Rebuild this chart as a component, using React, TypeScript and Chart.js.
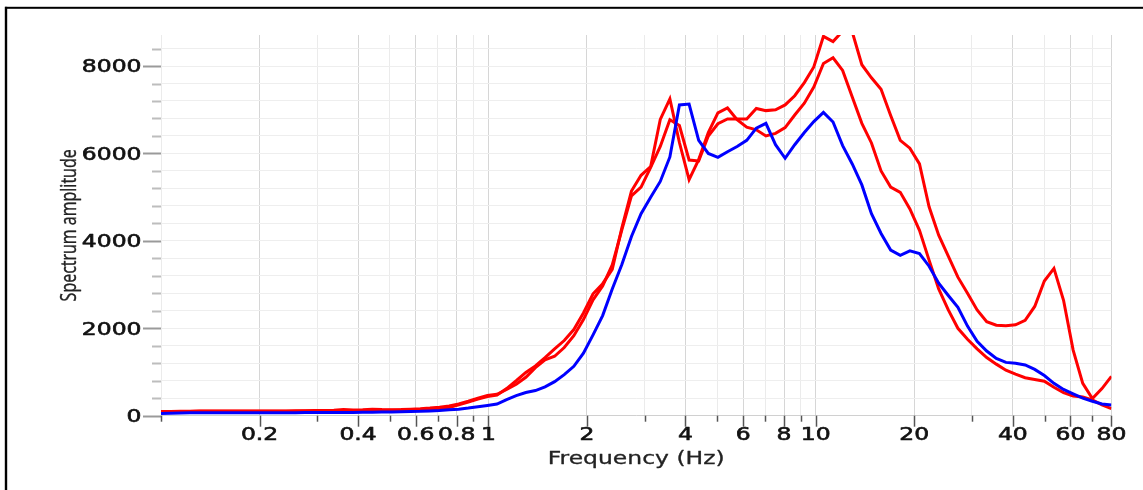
import React, { useEffect, useRef } from "react";
import { Chart, registerables } from "chart.js";
Chart.register(...registerables);

// Frequency grid (Hz), log-spaced 0.1 … 80
const frequencyHz = [
  0.1, 0.107, 0.1145, 0.1225, 0.131, 0.1402, 0.15, 0.1605, 0.1717, 0.1837,
  0.1965, 0.2102, 0.2249, 0.2406, 0.2575, 0.2754, 0.2947, 0.3153, 0.3373, 0.3609,
  0.3861, 0.4131, 0.442, 0.4728, 0.5059, 0.5412, 0.5791, 0.6195, 0.6628, 0.7091,
  0.7587, 0.8117, 0.8684, 0.9291, 0.9932, 1.0625, 1.1368, 1.2163, 1.3013, 1.3922,
  1.4895, 1.5936, 1.7049, 1.8241, 1.9516, 2.088, 2.2339, 2.39, 2.557, 2.7357,
  2.9269, 3.1315, 3.3503, 3.5845, 3.833, 4.103, 4.3897, 4.6965, 5.0247, 5.3758,
  5.7515, 6.1534, 6.5835, 7.0436, 7.5358, 8.0624, 8.6259, 9.2287, 9.8637, 10.556,
  11.293, 12.082, 12.927, 13.83, 14.797, 15.831, 16.937, 18.121, 19.387, 20.742,
  22.192, 23.743, 25.402, 27.177, 29.076, 31.108, 33.282, 35.608, 38.097, 40.759,
  43.608, 46.655, 49.916, 53.404, 57.137, 61.13, 65.402, 69.973, 74.862, 80,
];

const blueAmplitude = [
  50, 55, 60, 65, 68, 70, 70, 70, 70, 70,
  70, 70, 70, 70, 70, 72, 72, 72, 75, 75,
  75, 78, 80, 82, 85, 90, 95, 100, 110, 120,
  135, 150, 175, 205, 235, 268, 370, 460, 530, 575,
  660, 780, 940, 1130, 1430, 1850, 2290, 2900, 3460, 4100,
  4620, 5000, 5360, 5920, 7110, 7130, 6300, 6000, 5910, 6040,
  6160, 6300, 6580, 6690, 6200, 5890, 6200, 6480, 6730, 6940,
  6720, 6180, 5760, 5280, 4620, 4170, 3790, 3670, 3770, 3710,
  3420, 3030, 2750, 2480, 2050, 1700, 1480, 1310, 1220, 1200,
  1160, 1060, 920, 740, 600, 500, 400, 330, 270, 245,
];

const redAmplitudeA = [
  95, 98, 100, 103, 105, 108, 110, 110, 110, 110,
  110, 108, 108, 110, 112, 115, 118, 120, 125, 140,
  130, 135, 150, 140, 135, 140, 150, 160, 175, 195,
  225, 270, 330, 400, 460, 490, 600, 720, 880, 1100,
  1280, 1360, 1560, 1830, 2200, 2650, 2970, 3450, 4250, 5030,
  5230, 5680, 6160, 6770, 6640, 5850, 5830, 6400, 6680, 6790,
  6790, 6790, 7030, 6980, 7000, 7110, 7320, 7620, 7980, 8680,
  8560, 8800, 8780, 8030, 7730, 7470, 6870, 6300, 6120, 5760,
  4780, 4130, 3650, 3170, 2800, 2420, 2150, 2070, 2060, 2080,
  2180, 2500, 3080, 3370, 2640, 1500, 740, 390, 620, 900,
];

const redAmplitudeB = [
  80, 85, 90, 95, 100, 100, 100, 100, 100, 100,
  100, 100, 100, 100, 100, 105, 105, 110, 110, 115,
  115, 120, 120, 125, 125, 130, 135, 140, 150, 165,
  185, 250, 310, 380, 440, 470, 620, 800, 990, 1140,
  1330, 1530, 1720, 1970, 2350, 2790, 3020, 3350, 4300, 5140,
  5500, 5700, 6780, 7250, 6250, 5400, 5860, 6480, 6930, 7040,
  6770, 6600, 6540, 6400, 6460, 6590, 6880, 7150, 7520, 8060,
  8190, 7900, 7290, 6690, 6240, 5600, 5230, 5110, 4730, 4240,
  3560, 2900, 2420, 2000, 1750, 1530, 1330, 1180, 1040, 950,
  870, 830, 790, 650, 530, 450, 430, 360, 250, 160,
];

const xGridValues = [
  0.1, 0.2, 0.3, 0.4, 0.5, 0.6, 0.7, 0.8, 0.9,
  1, 2, 3, 4, 5, 6, 7, 8, 9,
  10, 20, 30, 40, 50, 60, 70, 80,
];
const xLabelValues = [0.2, 0.4, 0.6, 0.8, 1, 2, 4, 6, 8, 10, 20, 40, 60, 80];
const yGridValues = [
  0, 400, 800, 1200, 1600, 2000, 2400, 2800, 3200, 3600, 4000, 4400,
  4800, 5200, 5600, 6000, 6400, 6800, 7200, 7600, 8000, 8400,
];
const yLabelValues = [0, 2000, 4000, 6000, 8000];

const X_TITLE = "Frequency (Hz)";
const Y_TITLE = "Spectrum amplitude";
const STRETCH = 1.38;

function heavyText(ctx: CanvasRenderingContext2D, s: string, w: number) {
  ctx.lineWidth = w;
  ctx.lineJoin = "round";
  ctx.strokeStyle = ctx.fillStyle as string;
  ctx.strokeText(s, 0, 0);
  ctx.fillText(s, 0, 0);
}

const overlay = {
  id: "overlay",
  afterDraw(chart: any) {
    const ctx = chart.ctx as CanvasRenderingContext2D;
    const area = chart.chartArea;
    const xs = chart.scales.x;
    const ys = chart.scales.y;
    ctx.save();
    // y tick marks
    for (const v of yGridValues) {
      const y = Math.round(ys.getPixelForValue(v)) + 0.5;
      const major = yLabelValues.includes(v);
      ctx.strokeStyle = major ? "#9a9a9a" : "#bdbdbd";
      ctx.lineWidth = 2;
      ctx.beginPath();
      ctx.moveTo(area.left - (major ? 18 : 9), y);
      ctx.lineTo(area.left, y);
      ctx.stroke();
    }
    // x tick marks
    for (const v of xGridValues) {
      const x = Math.round(xs.getPixelForValue(v)) + 0.5;
      const major = xLabelValues.includes(v);
      ctx.strokeStyle = "#555";
      ctx.lineWidth = 1.5;
      ctx.beginPath();
      ctx.moveTo(x, area.bottom);
      ctx.lineTo(x, area.bottom + (major ? 11 : 6));
      ctx.stroke();
    }
    ctx.fillStyle = "#111";
    ctx.font = "17px 'DejaVu Sans'";
    // y labels
    for (const v of yLabelValues) {
      const y = ys.getPixelForValue(v);
      ctx.save();
      ctx.translate(area.left - 19.5, y + 6.3);
      ctx.scale(STRETCH, 1);
      ctx.textAlign = "right";
      ctx.textBaseline = "alphabetic";
      heavyText(ctx, String(v), 0.6);
      ctx.restore();
    }
    // x labels
    for (const v of xLabelValues) {
      const x = xs.getPixelForValue(v);
      ctx.save();
      ctx.translate(x, area.bottom + 24.3);
      ctx.scale(STRETCH, 1);
      ctx.textAlign = "center";
      ctx.textBaseline = "alphabetic";
      heavyText(ctx, String(v), 0.6);
      ctx.restore();
    }
    // x title
    ctx.save();
    ctx.fillStyle = "#222";
    ctx.translate((area.left + area.right) / 2, area.bottom + 48.3);
    ctx.scale(STRETCH, 1);
    ctx.textAlign = "center";
    heavyText(ctx, X_TITLE, 0.3);
    ctx.restore();
    // y title
    ctx.save();
    ctx.fillStyle = "#222";
    ctx.font = "16px 'Open Sans'";
    ctx.translate(76, (area.top + area.bottom) / 2);
    ctx.scale(STRETCH, 1);
    ctx.rotate(-Math.PI / 2);
    ctx.textAlign = "center";
    ctx.textBaseline = "alphabetic";
    heavyText(ctx, Y_TITLE, 0.3);
    ctx.restore();
    // frame
    ctx.fillStyle = "#000";
    ctx.fillRect(5, 6.8, 1138, 2);
    ctx.fillRect(4.8, 6.8, 2.4, 484);
    ctx.restore();
  },
};

export default function App() {
  const ref = useRef<HTMLCanvasElement>(null);
  useEffect(() => {
    const mk = (vals: number[]) => frequencyHz.map((f, i) => ({ x: f, y: vals[i] }));
    const line = { borderWidth: 3, pointRadius: 0, tension: 0, fill: false };
    const chart = new Chart(ref.current!, {
      type: "line",
      data: {
        datasets: [
          { data: mk(blueAmplitude), borderColor: "#0000ff", ...line },
          { data: mk(redAmplitudeB), borderColor: "#ff0000", ...line },
          { data: mk(redAmplitudeA), borderColor: "#ff0000", ...line },
        ],
      },
      options: {
        animation: false,
        responsive: false,
        devicePixelRatio: 1,
        layout: { padding: { top: 35, right: 31.6, left: 0, bottom: 0 } },
        plugins: { legend: { display: false }, tooltip: { enabled: false } },
        scales: {
          x: {
            type: "logarithmic",
            min: 0.1,
            max: 80,
            afterBuildTicks: (s: any) => {
              s.ticks = xGridValues.map((v) => ({ value: v }));
            },
            afterFit: (s: any) => {
              s.height = 490 - 415.7;
            },
            ticks: { display: false },
            grid: {
              drawTicks: false,
              lineWidth: 1,
              color: (c: any) => (xLabelValues.includes(c.tick?.value) ? "#d6d6d6" : "#ebebeb"),
            },
            border: { display: false },
          },
          y: {
            type: "linear",
            min: 0,
            max: 8710,
            afterBuildTicks: (s: any) => {
              s.ticks = yGridValues.map((v) => ({ value: v }));
            },
            afterFit: (s: any) => {
              s.width = 161;
            },
            ticks: { display: false },
            grid: {
              drawTicks: false,
              lineWidth: 1,
              color: (c: any) => (c.tick?.value === 0 ? "#d0d0d0" : "#eeeeee"),
            },
            border: { display: false },
          },
        },
      },
      plugins: [overlay],
    });
    return () => chart.destroy();
  }, []);
  return (
    <div style={{ position: "fixed", left: 0, top: 0, width: 1143, height: 490, background: "#fff" }}>
      <canvas ref={ref} width={1143} height={490} style={{ display: "block" }} />
    </div>
  );
}
